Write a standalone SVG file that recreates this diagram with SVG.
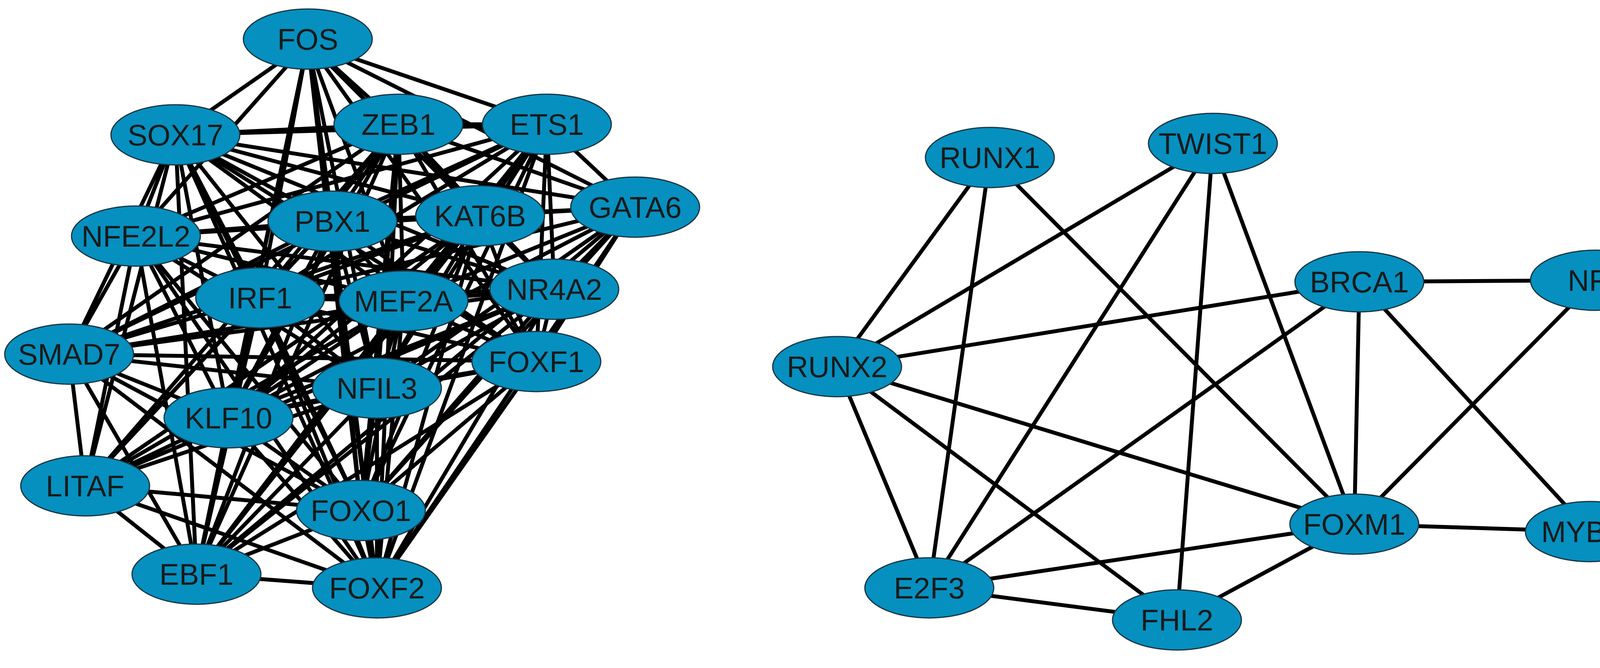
<svg xmlns="http://www.w3.org/2000/svg" width="4263" height="1709" viewBox="0 0 4263 1709">
<style>
.e line{stroke:#000;stroke-width:10}
.n ellipse{fill:#0590c0;stroke:#1a3340;stroke-width:3}
.n text{font-family:"Liberation Sans",Arial,sans-serif;font-size:76px;fill:#1a1a1a;text-anchor:middle;dominant-baseline:central}
</style>
<rect width="4263" height="1709" fill="#fff"/>
<g id="connectors" class="e">
<line x1="788" y1="109" x2="449" y2="345"/><line x1="788" y1="109" x2="1020" y2="318"/><line x1="788" y1="109" x2="1400" y2="318"/><line x1="788" y1="109" x2="1626" y2="530"/><line x1="788" y1="109" x2="1419" y2="740"/><line x1="788" y1="109" x2="851" y2="566"/><line x1="788" y1="109" x2="1229" y2="552"/><line x1="788" y1="109" x2="1033" y2="770"/><line x1="788" y1="109" x2="666" y2="762"/><line x1="788" y1="109" x2="965" y2="993"/><line x1="788" y1="109" x2="924" y2="1306"/><line x1="788" y1="109" x2="965" y2="1504"/><line x1="788" y1="109" x2="503" y2="1469"/><line x1="788" y1="109" x2="585" y2="1069"/><line x1="788" y1="109" x2="1373" y2="925"/><line x1="788" y1="109" x2="348" y2="604"/>
<line x1="449" y1="345" x2="1020" y2="318"/><line x1="449" y1="345" x2="1400" y2="318"/><line x1="449" y1="345" x2="1229" y2="552"/><line x1="449" y1="345" x2="1626" y2="530"/><line x1="449" y1="345" x2="851" y2="566"/><line x1="449" y1="345" x2="1033" y2="770"/><line x1="449" y1="345" x2="1419" y2="740"/><line x1="449" y1="345" x2="666" y2="762"/><line x1="449" y1="345" x2="965" y2="993"/><line x1="449" y1="345" x2="924" y2="1306"/><line x1="449" y1="345" x2="503" y2="1469"/><line x1="449" y1="345" x2="965" y2="1504"/><line x1="449" y1="345" x2="585" y2="1069"/><line x1="449" y1="345" x2="218" y2="1243"/><line x1="449" y1="345" x2="177" y2="906"/><line x1="449" y1="345" x2="348" y2="604"/><line x1="449" y1="345" x2="1373" y2="925"/>
<line x1="1020" y1="318" x2="1400" y2="318"/><line x1="1020" y1="318" x2="1229" y2="552"/><line x1="1020" y1="318" x2="1626" y2="530"/><line x1="1020" y1="318" x2="851" y2="566"/><line x1="1020" y1="318" x2="666" y2="762"/><line x1="1020" y1="318" x2="1033" y2="770"/><line x1="1020" y1="318" x2="1419" y2="740"/><line x1="1020" y1="318" x2="965" y2="993"/><line x1="1020" y1="318" x2="924" y2="1306"/><line x1="1020" y1="318" x2="965" y2="1504"/><line x1="1020" y1="318" x2="503" y2="1469"/><line x1="1020" y1="318" x2="585" y2="1069"/><line x1="1020" y1="318" x2="177" y2="906"/><line x1="1020" y1="318" x2="348" y2="604"/><line x1="1020" y1="318" x2="1373" y2="925"/><line x1="1020" y1="318" x2="218" y2="1243"/>
<line x1="1400" y1="318" x2="1626" y2="530"/><line x1="1400" y1="318" x2="1229" y2="552"/><line x1="1400" y1="318" x2="851" y2="566"/><line x1="1400" y1="318" x2="666" y2="762"/><line x1="1400" y1="318" x2="1033" y2="770"/><line x1="1400" y1="318" x2="1419" y2="740"/><line x1="1400" y1="318" x2="965" y2="993"/><line x1="1400" y1="318" x2="924" y2="1306"/><line x1="1400" y1="318" x2="965" y2="1504"/><line x1="1400" y1="318" x2="503" y2="1469"/><line x1="1400" y1="318" x2="585" y2="1069"/><line x1="1400" y1="318" x2="177" y2="906"/><line x1="1400" y1="318" x2="1373" y2="925"/><line x1="1400" y1="318" x2="348" y2="604"/>
<line x1="348" y1="604" x2="851" y2="566"/><line x1="348" y1="604" x2="1229" y2="552"/><line x1="348" y1="604" x2="666" y2="762"/><line x1="348" y1="604" x2="1033" y2="770"/><line x1="348" y1="604" x2="965" y2="993"/><line x1="348" y1="604" x2="924" y2="1306"/><line x1="348" y1="604" x2="503" y2="1469"/><line x1="348" y1="604" x2="965" y2="1504"/><line x1="348" y1="604" x2="585" y2="1069"/><line x1="348" y1="604" x2="177" y2="906"/><line x1="348" y1="604" x2="218" y2="1243"/><line x1="348" y1="604" x2="1419" y2="740"/>
<line x1="851" y1="566" x2="1229" y2="552"/><line x1="851" y1="566" x2="666" y2="762"/><line x1="851" y1="566" x2="1033" y2="770"/><line x1="851" y1="566" x2="1419" y2="740"/><line x1="851" y1="566" x2="965" y2="993"/><line x1="851" y1="566" x2="924" y2="1306"/><line x1="851" y1="566" x2="503" y2="1469"/><line x1="851" y1="566" x2="965" y2="1504"/><line x1="851" y1="566" x2="585" y2="1069"/><line x1="851" y1="566" x2="177" y2="906"/><line x1="851" y1="566" x2="218" y2="1243"/><line x1="851" y1="566" x2="1373" y2="925"/><line x1="851" y1="566" x2="1626" y2="530"/>
<line x1="1229" y1="552" x2="1626" y2="530"/><line x1="1229" y1="552" x2="666" y2="762"/><line x1="1229" y1="552" x2="1033" y2="770"/><line x1="1229" y1="552" x2="1419" y2="740"/><line x1="1229" y1="552" x2="965" y2="993"/><line x1="1229" y1="552" x2="924" y2="1306"/><line x1="1229" y1="552" x2="503" y2="1469"/><line x1="1229" y1="552" x2="965" y2="1504"/><line x1="1229" y1="552" x2="585" y2="1069"/><line x1="1229" y1="552" x2="177" y2="906"/><line x1="1229" y1="552" x2="1373" y2="925"/><line x1="1229" y1="552" x2="218" y2="1243"/>
<line x1="1626" y1="530" x2="1419" y2="740"/><line x1="1626" y1="530" x2="1373" y2="925"/><line x1="1626" y1="530" x2="965" y2="993"/><line x1="1626" y1="530" x2="924" y2="1306"/><line x1="1626" y1="530" x2="965" y2="1504"/><line x1="1626" y1="530" x2="503" y2="1469"/><line x1="1626" y1="530" x2="585" y2="1069"/><line x1="1626" y1="530" x2="666" y2="762"/><line x1="1626" y1="530" x2="1033" y2="770"/>
<line x1="666" y1="762" x2="1033" y2="770"/><line x1="666" y1="762" x2="1419" y2="740"/><line x1="666" y1="762" x2="965" y2="993"/><line x1="666" y1="762" x2="924" y2="1306"/><line x1="666" y1="762" x2="503" y2="1469"/><line x1="666" y1="762" x2="965" y2="1504"/><line x1="666" y1="762" x2="585" y2="1069"/><line x1="666" y1="762" x2="177" y2="906"/><line x1="666" y1="762" x2="218" y2="1243"/><line x1="666" y1="762" x2="1373" y2="925"/>
<line x1="1033" y1="770" x2="1419" y2="740"/><line x1="1033" y1="770" x2="1373" y2="925"/><line x1="1033" y1="770" x2="965" y2="993"/><line x1="1033" y1="770" x2="924" y2="1306"/><line x1="1033" y1="770" x2="503" y2="1469"/><line x1="1033" y1="770" x2="965" y2="1504"/><line x1="1033" y1="770" x2="585" y2="1069"/><line x1="1033" y1="770" x2="177" y2="906"/><line x1="1033" y1="770" x2="218" y2="1243"/>
<line x1="1419" y1="740" x2="1373" y2="925"/><line x1="1419" y1="740" x2="965" y2="993"/><line x1="1419" y1="740" x2="924" y2="1306"/><line x1="1419" y1="740" x2="965" y2="1504"/><line x1="1419" y1="740" x2="503" y2="1469"/><line x1="1419" y1="740" x2="585" y2="1069"/><line x1="1419" y1="740" x2="177" y2="906"/><line x1="1419" y1="740" x2="218" y2="1243"/>
<line x1="177" y1="906" x2="1373" y2="925"/><line x1="177" y1="906" x2="965" y2="993"/><line x1="177" y1="906" x2="585" y2="1069"/><line x1="177" y1="906" x2="218" y2="1243"/><line x1="177" y1="906" x2="503" y2="1469"/><line x1="177" y1="906" x2="924" y2="1306"/><line x1="177" y1="906" x2="965" y2="1504"/>
<line x1="1373" y1="925" x2="965" y2="993"/><line x1="1373" y1="925" x2="924" y2="1306"/><line x1="1373" y1="925" x2="965" y2="1504"/><line x1="1373" y1="925" x2="503" y2="1469"/><line x1="1373" y1="925" x2="585" y2="1069"/>
<line x1="965" y1="993" x2="924" y2="1306"/><line x1="965" y1="993" x2="965" y2="1504"/><line x1="965" y1="993" x2="503" y2="1469"/><line x1="965" y1="993" x2="585" y2="1069"/><line x1="965" y1="993" x2="218" y2="1243"/>
<line x1="585" y1="1069" x2="218" y2="1243"/><line x1="585" y1="1069" x2="924" y2="1306"/><line x1="585" y1="1069" x2="503" y2="1469"/><line x1="585" y1="1069" x2="965" y2="1504"/>
<line x1="218" y1="1243" x2="503" y2="1469"/><line x1="218" y1="1243" x2="924" y2="1306"/><line x1="218" y1="1243" x2="965" y2="1504"/>
<line x1="924" y1="1306" x2="503" y2="1469"/><line x1="924" y1="1306" x2="965" y2="1504"/><line x1="503" y1="1469" x2="965" y2="1504"/>
<line x1="2534" y1="403" x2="2143" y2="938"/><line x1="2534" y1="403" x2="2379" y2="1504"/><line x1="2534" y1="403" x2="3467" y2="1341"/>
<line x1="3105" y1="367" x2="2143" y2="938"/><line x1="3105" y1="367" x2="2379" y2="1504"/><line x1="3105" y1="367" x2="3013" y2="1586"/><line x1="3105" y1="367" x2="3467" y2="1341"/>
<line x1="3480" y1="721" x2="4085" y2="717"/><line x1="3480" y1="721" x2="2143" y2="938"/><line x1="3480" y1="721" x2="2379" y2="1504"/><line x1="3480" y1="721" x2="3467" y2="1341"/><line x1="3480" y1="721" x2="4070" y2="1360"/>
<line x1="4085" y1="717" x2="3467" y2="1341"/>
<line x1="2143" y1="938" x2="2379" y2="1504"/><line x1="2143" y1="938" x2="3013" y2="1586"/><line x1="2143" y1="938" x2="3467" y2="1341"/>
<line x1="3467" y1="1341" x2="4070" y2="1360"/><line x1="3467" y1="1341" x2="2379" y2="1504"/><line x1="3467" y1="1341" x2="3013" y2="1586"/><line x1="2379" y1="1504" x2="3013" y2="1586"/>
</g>
<g class="n">
<g id="FOS"><ellipse cx="788" cy="100" rx="165" ry="77"/><text x="788" y="100">FOS</text></g>
<g id="SOX17"><ellipse cx="449" cy="345" rx="165" ry="77"/><text x="449" y="345">SOX17</text></g>
<g id="ZEB1"><ellipse cx="1020" cy="318" rx="165" ry="77"/><text x="1020" y="318">ZEB1</text></g>
<g id="ETS1"><ellipse cx="1400" cy="318" rx="165" ry="77"/><text x="1400" y="318">ETS1</text></g>
<g id="NFE2L2"><ellipse cx="348" cy="604" rx="165" ry="77"/><text x="348" y="604">NFE2L2</text></g>
<g id="PBX1"><ellipse cx="851" cy="566" rx="165" ry="77"/><text x="851" y="566">PBX1</text></g>
<g id="KAT6B"><ellipse cx="1229" cy="552" rx="165" ry="77"/><text x="1229" y="552">KAT6B</text></g>
<g id="GATA6"><ellipse cx="1626" cy="530" rx="165" ry="77"/><text x="1626" y="530">GATA6</text></g>
<g id="IRF1"><ellipse cx="666" cy="762" rx="165" ry="77"/><text x="666" y="762">IRF1</text></g>
<g id="MEF2A"><ellipse cx="1033" cy="770" rx="165" ry="77"/><text x="1033" y="770">MEF2A</text></g>
<g id="NR4A2"><ellipse cx="1419" cy="740" rx="165" ry="77"/><text x="1419" y="740">NR4A2</text></g>
<g id="SMAD7"><ellipse cx="177" cy="906" rx="165" ry="77"/><text x="177" y="906">SMAD7</text></g>
<g id="FOXF1"><ellipse cx="1373" cy="925" rx="165" ry="77"/><text x="1373" y="925">FOXF1</text></g>
<g id="NFIL3"><ellipse cx="965" cy="993" rx="165" ry="77"/><text x="965" y="993">NFIL3</text></g>
<g id="KLF10"><ellipse cx="585" cy="1069" rx="165" ry="77"/><text x="585" y="1069">KLF10</text></g>
<g id="LITAF"><ellipse cx="218" cy="1243" rx="165" ry="77"/><text x="218" y="1243">LITAF</text></g>
<g id="FOXO1"><ellipse cx="924" cy="1306" rx="165" ry="77"/><text x="924" y="1306">FOXO1</text></g>
<g id="EBF1"><ellipse cx="503" cy="1469" rx="165" ry="77"/><text x="503" y="1469">EBF1</text></g>
<g id="FOXF2"><ellipse cx="965" cy="1504" rx="165" ry="77"/><text x="965" y="1504">FOXF2</text></g>
<g id="RUNX1"><ellipse cx="2534" cy="403" rx="165" ry="77"/><text x="2534" y="403">RUNX1</text></g>
<g id="TWIST1"><ellipse cx="3105" cy="367" rx="165" ry="77"/><text x="3105" y="367">TWIST1</text></g>
<g id="BRCA1"><ellipse cx="3480" cy="721" rx="165" ry="77"/><text x="3480" y="721">BRCA1</text></g>
<g id="NF1"><ellipse cx="4085" cy="717" rx="167" ry="77"/><text x="4085" y="717">NF1</text></g>
<g id="RUNX2"><ellipse cx="2143" cy="938" rx="165" ry="77"/><text x="2143" y="938">RUNX2</text></g>
<g id="FOXM1"><ellipse cx="3467" cy="1341" rx="165" ry="77"/><text x="3467" y="1341">FOXM1</text></g>
<g id="MYBL2"><ellipse cx="4070" cy="1360" rx="165" ry="77"/><text x="4070" y="1360">MYBL2</text></g>
<g id="E2F3"><ellipse cx="2379" cy="1504" rx="165" ry="77"/><text x="2379" y="1504">E2F3</text></g>
<g id="FHL2"><ellipse cx="3013" cy="1586" rx="165" ry="77"/><text x="3013" y="1586">FHL2</text></g>
</g>
</svg>
